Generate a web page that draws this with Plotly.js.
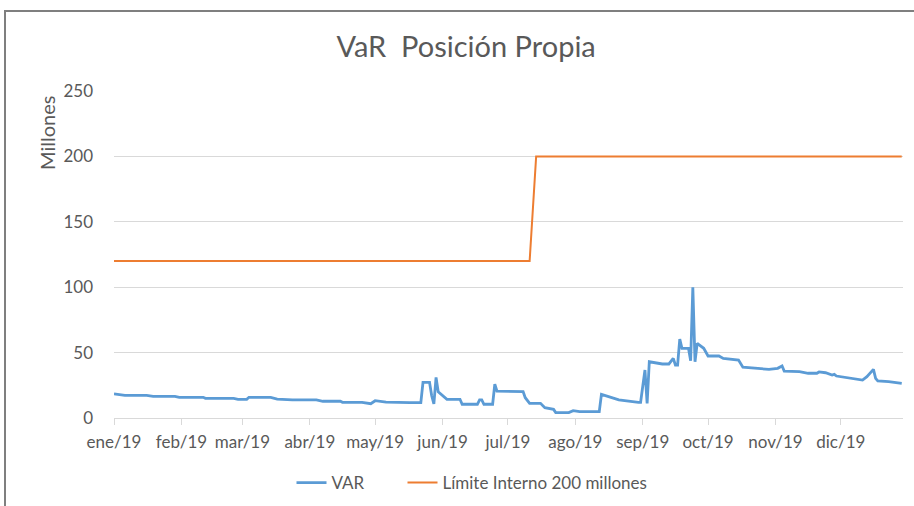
<!DOCTYPE html>
<html>
<head>
<meta charset="utf-8">
<script src="https://cdn.plot.ly/plotly-3.0.1.min.js"></script>
<style>
  body { margin: 0; background: #fff; }
  #chart { width: 914px; height: 506px; position: absolute; left: 0; top: 0; }
  #frame { position: absolute; left: 4px; top: 10px; width: 930px; height: 520px;
           border: 2px solid #7f7f7f; pointer-events: none; }
</style>
</head>
<body>
<div id="chart"></div>
<div id="frame"></div>
<script>
// VaR posicion propia 2019 (millones)
const varDates = [
  "2019-01-01", "2019-01-06", "2019-01-16", "2019-01-19", "2019-01-29", "2019-01-31",
  "2019-02-11", "2019-02-12", "2019-02-25", "2019-02-27",
  "2019-03-03", "2019-03-04", "2019-03-14", "2019-03-17", "2019-03-24",
  "2019-04-04", "2019-04-07", "2019-04-15", "2019-04-16", "2019-04-25", "2019-04-29",
  "2019-05-01", "2019-05-06", "2019-05-12", "2019-05-17", "2019-05-22", "2019-05-23",
  "2019-05-26", "2019-05-27", "2019-05-28", "2019-05-29", "2019-05-30",
  "2019-06-03", "2019-06-09", "2019-06-10", "2019-06-17", "2019-06-18", "2019-06-19",
  "2019-06-20", "2019-06-24", "2019-06-25", "2019-06-26",
  "2019-07-08", "2019-07-09", "2019-07-11", "2019-07-16", "2019-07-18", "2019-07-22",
  "2019-07-23", "2019-07-29", "2019-07-31",
  "2019-08-03", "2019-08-12", "2019-08-13", "2019-08-21", "2019-08-30", "2019-08-31",
  "2019-09-02", "2019-09-03", "2019-09-04", "2019-09-10", "2019-09-13", "2019-09-15",
  "2019-09-16", "2019-09-17", "2019-09-18", "2019-09-19", "2019-09-22", "2019-09-23",
  "2019-09-24", "2019-09-25", "2019-09-26", "2019-09-29",
  "2019-10-01", "2019-10-06", "2019-10-08", "2019-10-15", "2019-10-17", "2019-10-21",
  "2019-10-29",
  "2019-11-02", "2019-11-04", "2019-11-05", "2019-11-12", "2019-11-16", "2019-11-20",
  "2019-11-21", "2019-11-24", "2019-11-27", "2019-11-28", "2019-11-29",
  "2019-12-05", "2019-12-11", "2019-12-13", "2019-12-16", "2019-12-17", "2019-12-18",
  "2019-12-23", "2019-12-29"
];
const varValues = [
  18.5, 17.3, 17.3, 16.6, 16.6, 15.8,
  15.8, 15.0, 15.0, 14.3,
  14.3, 15.8, 15.8, 14.5, 13.8,
  13.8, 12.8, 12.8, 12.0, 12.0, 10.9,
  13.2, 12.2, 11.8, 11.7, 11.7, 27.3,
  27.3, 17.0, 10.7, 31.0, 20.0,
  14.3, 14.3, 10.5, 10.5, 13.8, 13.8,
  10.5, 10.5, 25.8, 20.6,
  20.2, 15.5, 11.2, 11.2, 7.9, 6.6,
  4.1, 4.1, 5.6,
  4.8, 4.8, 18.1, 13.8, 12.0, 12.0,
  36.7, 11.2, 43.0, 41.3, 41.3, 45.6,
  40.5, 40.5, 60.4, 53.3, 53.3, 43.8,
  100.0, 43.0, 57.1, 53.3,
  47.4, 47.4, 45.6, 44.3, 38.8, 38.2,
  37.2,
  38.0, 39.8, 35.9, 35.4, 34.2, 34.2,
  35.2, 34.6, 32.9, 33.4, 32.1,
  30.3, 29.0, 31.6, 37.2, 30.3, 28.3,
  27.8, 26.5
];

// limite interno
const limiteDates = ["2019-01-01", "2019-07-11", "2019-07-14", "2019-12-29"];
const limiteValues = [120, 120, 200, 200];

const tickDates = [
  "2019-01-01", "2019-02-01", "2019-03-01", "2019-04-01", "2019-05-01", "2019-06-01",
  "2019-07-01", "2019-08-01", "2019-09-01", "2019-10-01", "2019-11-01", "2019-12-01"
];
const tickLabels = [
  "ene/19", "feb/19", "mar/19", "abr/19", "may/19", "jun/19",
  "jul/19", "ago/19", "sep/19", "oct/19", "nov/19", "dic/19"
];

const txt = "#595959";
const grid = "#d9d9d9";

const traces = [
  {
    x: varDates,
    y: varValues,
    name: "VAR",
    type: "scatter",
    mode: "lines",
    legendwidth: 66,
    line: { color: "#5b9bd5", width: 2.8 },
  },
  {
    x: limiteDates,
    y: limiteValues,
    name: "Límite Interno 200 millones",
    type: "scatter",
    mode: "lines",
    line: { color: "#ed7d31", width: 2 },
  },
];

const layout = {
  width: 914,
  height: 506,
  margin: { l: 114, r: 11, t: 91, b: 88 },
  paper_bgcolor: "rgba(0,0,0,0)",
  plot_bgcolor: "#fff",
  font: { family: "Lato, sans-serif", size: 16, color: txt },
  title: {
    text: "VaR  Posición Propia",
    font: { size: 29, color: txt },
    x: 0.51,
    xanchor: "center",
    y: 1 - 47 / 506,
    yanchor: "middle",
  },
  xaxis: {
    type: "date",
    range: ["2019-01-01", "2019-12-29 14:00"],
    tickvals: tickDates,
    ticktext: tickLabels,
    showgrid: false,
    showline: true,
    linecolor: grid,
    linewidth: 1,
    ticks: "outside",
    ticklen: 6,
    tickcolor: grid,
    ticklabelstandoff: 3,
    tickfont: { size: 17, color: txt },
    zeroline: false,
  },
  yaxis: {
    range: [0, 250],
    tickvals: [0, 50, 100, 150, 200, 250],
    showgrid: true,
    gridcolor: grid,
    gridwidth: 1,
    zeroline: false,
    showline: false,
    ticks: "",
    ticklabelstandoff: 20,
    tickfont: { size: 17, color: txt },
  },
  showlegend: true,
  legend: {
    orientation: "h",
    x: 472 / 914,
    xref: "container",
    xanchor: "center",
    y: 1 - 483 / 506,
    yref: "container",
    yanchor: "middle",
    font: { size: 17, color: txt },
    bgcolor: "rgba(0,0,0,0)",
  },
  annotations: [
    {
      text: "Millones",
      xref: "paper",
      yref: "paper",
      x: (47 - 114) / 789,
      y: (418 - 133) / 327,
      xanchor: "center",
      yanchor: "middle",
      textangle: -90,
      showarrow: false,
      font: { size: 20, color: txt },
    },
  ],
};

Plotly.newPlot("chart", traces, layout, { displayModeBar: false, staticPlot: true });
</script>
</body>
</html>
